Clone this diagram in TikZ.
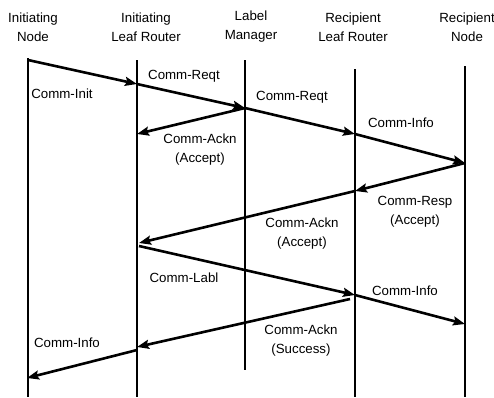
\documentclass[tikz,border=0pt]{standalone}
\usepackage{fontspec}
\setmainfont{Liberation Sans}
\usetikzlibrary{arrows.meta}
\tikzset{
  lifeline/.style={line width=2.6pt},
  msg/.style={line width=2.6pt,-{Stealth[length=12pt,width=9pt,inset=2pt]}},
  lbl/.style={align=center,inner sep=0pt}
}
\begin{document}
\begin{tikzpicture}[x=1pt,y=-1pt,font=\fontsize{13.3}{19}\selectfont]
\useasboundingbox (0,0) rectangle (494,397);
% column headings
\node[lbl] (hinit) at (33,27) {Initiating\\Node};
\node[lbl] (hilr) at (146,27) {Initiating\\Leaf Router};
\node[lbl] (hlm) at (251,27) {Label\\Manager};
\node[lbl] (hrlr) at (353,27) {Recipient\\Leaf Router};
\node[lbl] (hrn) at (467,27) {Recipient\\Node};
% lifelines
\foreach \x/\t/\b in {28/58/397,137/60/397,245/60/370,355/69/397,465/66/397}
{
    \draw[lifeline](\x,\t)--(\x,\b);
}
% message end points
\coordinate (a1) at (28,60);
\coordinate (b1) at (137,84);
\coordinate (c1) at (245,108);
\coordinate (d1) at (355,134);
\coordinate (b2) at (137,134);
\coordinate (e1) at (465,163);
\coordinate (d2) at (355,191);
\coordinate (b3) at (139,243);
\coordinate (b4) at (139,246);
\coordinate (d3) at (355,295);
\coordinate (e2) at (465,324);
\coordinate (d4) at (350,299);
\coordinate (b5) at (137,347);
\coordinate (b6) at (137,350);
\coordinate (a2) at (27,378);
% messages
\draw[msg](a1)--(b1);
\draw[msg](b1)--(c1);
\draw[msg](c1)--(d1);
\draw[msg](c1)--(b2);
\draw[msg](d1)--(e1);
\draw[msg](e1)--(d2);
\draw[msg](d2)--(b3);
\draw[msg](b4)--(d3);
\draw[msg](d3)--(e2);
\draw[msg](d4)--(b5);
\draw[msg](b6)--(a2);
% message labels
\node[lbl] (linit) at (62,94) {Comm-Init};
\node[lbl] (lreq1) at (184,76) {Comm-Reqt};
\node[lbl] (lreq2) at (292,97) {Comm-Reqt};
\node[lbl] (linfo1) at (401,123) {Comm-Info};
\node[lbl] (lack1) at (200,150) {Comm-Ackn\\(Accept)};
\node[lbl] (lresp) at (415,212) {Comm-Resp\\(Accept)};
\node[lbl] (lack2) at (302,234) {Comm-Ackn\\(Accept)};
\node[lbl] (llabl) at (184,278) {Comm-Labl};
\node[lbl] (linfo2) at (405,291) {Comm-Info};
\node[lbl] (lack3) at (301,341) {Comm-Ackn\\(Success)};
\node[lbl] (linfo3) at (67,343) {Comm-Info};
\end{tikzpicture}
\end{document}
